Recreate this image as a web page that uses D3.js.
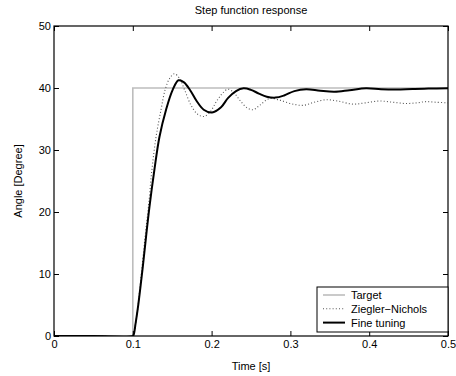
<!DOCTYPE html>
<html>
<head>
<meta charset="utf-8">
<script src="https://cdn.jsdelivr.net/npm/d3@7"></script>
<style>
  body { margin: 0; background: #fff; }
  text { font-family: "Liberation Sans", Arial, sans-serif; fill: #000; }
</style>
</head>
<body>
<svg id="step-chart" width="456" height="376"></svg>
<script>
// values
const targetTime = [0, 0.1, 0.1, 0.5];
const targetAngle = [0, 0, 40, 40];

const znTime = [0, 0.05, 0.1, 0.1013, 0.1035, 0.1063, 0.112, 0.116, 0.12, 0.124, 0.1295, 0.1358, 0.141, 0.1465,
  0.1528, 0.159, 0.166, 0.174, 0.182, 0.19, 0.198, 0.206, 0.2135, 0.2207, 0.228, 0.236, 0.245,
  0.253, 0.261, 0.2734, 0.285, 0.3, 0.316, 0.33, 0.345, 0.36, 0.379, 0.395, 0.413, 0.43,
  0.446, 0.46, 0.472, 0.485, 0.5];
const znAngle = [0, 0, 0, 0.3, 2, 4.5, 11.5, 16.5, 21, 26.5, 32.1, 36.5, 39.7, 41.5,
  42.3, 41.6, 39.6, 37.2, 35.8, 35.4, 36.1, 37.8, 39.1, 39.8, 39.3, 38, 36.8,
  36.5, 37.2, 38.3, 38.1, 37.5, 37.2, 37.7, 38.1, 37.9, 37.4, 37.6, 37.9, 37.7,
  37.5, 37.6, 37.8, 37.7, 37.6];

const fineTime = [0, 0.05, 0.1, 0.1013, 0.1035, 0.1063, 0.1127, 0.1168, 0.1211, 0.1274, 0.1338, 0.1422, 0.1506,
  0.158, 0.165, 0.173, 0.181, 0.19, 0.2005, 0.212, 0.221, 0.231, 0.2405, 0.25, 0.26,
  0.27, 0.281, 0.292, 0.305, 0.32, 0.338, 0.356, 0.375, 0.396, 0.415, 0.435, 0.455, 0.475, 0.5];
const fineAngle = [0, 0, 0, 0.3, 2, 4.4, 11.2, 16, 20.8, 26.8, 32.1, 36.5, 39.7,
  41.25, 40.9, 39.6, 37.9, 36.5, 36.05, 36.9, 38.4, 39.5, 39.95, 39.7, 39.1,
  38.6, 38.45, 38.8, 39.5, 39.8, 39.55, 39.4, 39.65, 39.95, 39.8, 39.75, 39.85, 39.9, 39.95];

const xTicks = [0, 0.1, 0.2, 0.3, 0.4, 0.5];
const yTicks = [0, 10, 20, 30, 40, 50];
const seriesNames = ["Target", "Ziegler\u2212Nichols", "Fine tuning"];

const svg = d3.select("svg#step-chart");
const margin = { left: 54, right: 8, top: 26, bottom: 40 };
const width = +svg.attr("width");
const height = +svg.attr("height");

const xScale = d3.scaleLinear().domain([0, 0.5]).range([margin.left, width - margin.right]);
const yScale = d3.scaleLinear().domain([0, 50]).range([height - margin.bottom, margin.top]);

const targetColor = "#bdbdbd";
const znColor = "#555";
const fineColor = "#000";

// keep the smoothed curves inside the plot box
svg.append("defs")
  .append("clipPath")
  .attr("id", "plot-clip")
  .append("rect")
  .attr("x", xScale(0))
  .attr("y", yScale(50))
  .attr("width", xScale(0.5) - xScale(0))
  .attr("height", yScale(0) - yScale(50));

const toPoints = (ts, vs) => ts.map((t, i) => [t, vs[i]]);

const line = d3.line()
  .x((d) => xScale(d[0]))
  .y((d) => yScale(d[1]))
  .curve(d3.curveCatmullRom.alpha(0.5));
const stepLine = d3.line()
  .x((d) => xScale(d[0]))
  .y((d) => yScale(d[1]));

const curves = svg.append("g").attr("clip-path", "url(#plot-clip)");

curves.append("path")
  .attr("d", stepLine(toPoints(targetTime, targetAngle)))
  .attr("fill", "none")
  .attr("stroke", targetColor)
  .attr("stroke-width", 1.6);

curves.append("path")
  .attr("d", line(toPoints(znTime, znAngle)))
  .attr("fill", "none")
  .attr("stroke", znColor)
  .attr("stroke-width", 1.1)
  .attr("stroke-dasharray", "1,2.2");

curves.append("path")
  .attr("d", line(toPoints(fineTime, fineAngle)))
  .attr("fill", "none")
  .attr("stroke", fineColor)
  .attr("stroke-width", 2);

// axes with inward ticks on all four sides
const tickLen = 5;
svg.append("g")
  .attr("transform", `translate(0, ${yScale(0)})`)
  .call(d3.axisBottom(xScale).tickValues(xTicks).tickSize(-tickLen).tickPadding(4).tickFormat((d) => d))
  .call((g) => g.select(".domain").remove());
svg.append("g")
  .attr("transform", `translate(0, ${yScale(50)})`)
  .call(d3.axisTop(xScale).tickValues(xTicks).tickSize(-tickLen).tickFormat(""))
  .call((g) => g.select(".domain").remove());
svg.append("g")
  .attr("transform", `translate(${xScale(0)}, 0)`)
  .call(d3.axisLeft(yScale).tickValues(yTicks).tickSize(-tickLen).tickPadding(3).tickFormat((d) => d))
  .call((g) => g.select(".domain").remove());
svg.append("g")
  .attr("transform", `translate(${xScale(0.5)}, 0)`)
  .call(d3.axisRight(yScale).tickValues(yTicks).tickSize(-tickLen).tickFormat(""))
  .call((g) => g.select(".domain").remove());

svg.selectAll(".tick line").attr("stroke", "#000");
svg.selectAll(".tick text")
  .attr("font-size", 11)
  .style("font-family", '"Liberation Sans", Arial, sans-serif')
  .attr("fill", "#333");

svg.append("rect")
  .attr("x", xScale(0))
  .attr("y", yScale(50))
  .attr("width", xScale(0.5) - xScale(0))
  .attr("height", yScale(0) - yScale(50))
  .attr("fill", "none")
  .attr("stroke", "#000")
  .attr("stroke-width", 1.2);

// titles
svg.append("text")
  .attr("x", (xScale(0) + xScale(0.5)) / 2)
  .attr("y", 14)
  .attr("text-anchor", "middle")
  .attr("font-size", 11)
  .text("Step function response");
svg.append("text")
  .attr("x", (xScale(0) + xScale(0.5)) / 2)
  .attr("y", 370)
  .attr("text-anchor", "middle")
  .attr("font-size", 11)
  .text("Time [s]");
svg.append("text")
  .attr("transform", `translate(22, ${(yScale(0) + yScale(50)) / 2}) rotate(-90)`)
  .attr("text-anchor", "middle")
  .attr("font-size", 11)
  .text("Angle [Degree]");

// legend
const legend = svg.append("g").attr("transform", `translate(317, 287)`);
legend.append("rect")
  .attr("width", 131)
  .attr("height", 45)
  .attr("fill", "#fff")
  .attr("stroke", "#000")
  .attr("stroke-width", 1);
const legendStyles = [
  { color: targetColor, width: 1.6, dash: null },
  { color: znColor, width: 1.1, dash: "1,2.2" },
  { color: fineColor, width: 2, dash: null },
];
seriesNames.forEach((name, i) => {
  const y = 8 + i * 13.8;
  legend.append("line")
    .attr("x1", 6).attr("x2", 28)
    .attr("y1", y).attr("y2", y)
    .attr("stroke", legendStyles[i].color)
    .attr("stroke-width", legendStyles[i].width)
    .attr("stroke-dasharray", legendStyles[i].dash);
  legend.append("text")
    .attr("x", 34)
    .attr("y", y)
    .attr("dominant-baseline", "central")
    .attr("font-size", 11)
    .text(name);
});
</script>
</body>
</html>
